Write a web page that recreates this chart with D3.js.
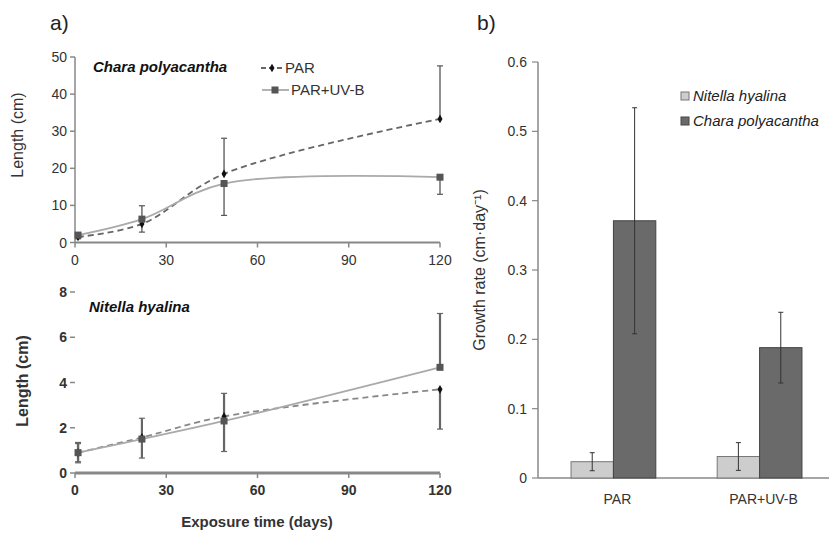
<!DOCTYPE html>
<html>
<head>
<meta charset="utf-8">
<script src="https://cdn.jsdelivr.net/npm/d3@7"></script>
<style>
  html, body { margin: 0; padding: 0; background: #fff; }
  svg { display: block; font-family: Arial, "Liberation Sans", sans-serif; }
</style>
</head>
<body>
<svg id="chart" width="829" height="533"></svg>
<script>
// exposure days (panel a)
const days = [1, 22, 49, 120];
const xTicks = [0, 30, 60, 90, 120];

// Chara polyacantha length (cm)
const charaPar = [1.5, 5.0, 18.5, 33.3];
const charaParErr = [0.5, 2.2, 9.6, 14.3];
const charaUvb = [2.0, 6.3, 15.9, 17.6];
const charaUvbErr = [0.6, 3.6, 8.6, 4.6];

// Nitella hyalina length (cm)
const nitellaPar = [0.9, 1.57, 2.5, 3.7];
const nitellaParErr = [0.45, 0.85, 1.02, 1.76];
const nitellaUvb = [0.9, 1.5, 2.3, 4.67];
const nitellaUvbErr = [0.4, 0.84, 1.35, 2.38];

// growth rate (panel b)
const treatments = ["PAR", "PAR+UV-B"];
const species = ["Nitella hyalina", "Chara polyacantha"];
const rateNitella = [0.0235, 0.031];
const rateNitellaErr = [0.013, 0.02];
const rateChara = [0.371, 0.188];
const rateCharaErr = [0.163, 0.051];

const svg = d3.select("#chart");
const W = 829;

// ---------- panel labels ----------
svg.append("text").attr("x", 50).attr("y", 30).attr("font-size", 21).attr("fill", "#222").text("a)");
svg.append("text").attr("x", 477).attr("y", 30).attr("font-size", 21).attr("fill", "#222").text("b)");

const x = d3.scaleLinear().domain([0, 120]).range([75, 440]);

function linePanel(opt) {
  const y = d3.scaleLinear().domain(opt.yDomain).range(opt.yRange);
  const g = svg.append("g");

  // y axis
  if (opt.yLine) {
    g.append("line").attr("x1", x(0)).attr("x2", x(0))
      .attr("y1", y(opt.yDomain[1])).attr("y2", y(0))
      .attr("stroke", "#888").attr("stroke-width", 1.5);
  }
  opt.yTicks.forEach((t) => {
    g.append("line").attr("x1", x(0) - 5).attr("x2", x(0))
      .attr("y1", y(t)).attr("y2", y(t)).attr("stroke", "#888").attr("stroke-width", 1.5);
    g.append("text").attr("x", x(0) - 8).attr("y", y(t) + 5)
      .attr("text-anchor", "end").attr("font-size", 14)
      .attr("font-weight", opt.bold ? "bold" : null)
      .attr("fill", "#333").text(t);
  });

  // x axis
  g.append("line").attr("x1", x(0)).attr("x2", x(120))
    .attr("y1", y(0)).attr("y2", y(0))
    .attr("stroke", "#888").attr("stroke-width", opt.xAxisW);
  xTicks.forEach((t) => {
    g.append("line").attr("x1", x(t)).attr("x2", x(t))
      .attr("y1", y(0)).attr("y2", y(0) + 5).attr("stroke", "#888").attr("stroke-width", 1.5);
    g.append("text").attr("x", x(t)).attr("y", y(0) + 22)
      .attr("text-anchor", "middle").attr("font-size", 14)
      .attr("font-weight", opt.bold ? "bold" : null)
      .attr("fill", "#333").text(t);
  });

  // y label
  g.append("text")
    .attr("transform", `translate(${opt.yLabelX},${opt.yLabelY}) rotate(-90)`)
    .attr("text-anchor", "middle").attr("font-size", 16)
    .attr("font-weight", opt.bold ? "bold" : null)
    .attr("fill", "#333").text("Length (cm)");

  // species title
  g.append("text").attr("x", opt.titleX).attr("y", opt.titleY)
    .attr("font-size", 15).attr("font-style", "italic").attr("font-weight", "bold")
    .attr("fill", "#111").text(opt.title);

  const line = d3.line().x((d) => x(d[0])).y((d) => y(d[1])).curve(d3.curveCatmullRom.alpha(0.5));

  const series = [
    { v: opt.par, e: opt.parErr, stroke: opt.parColor, dash: "6,4", w: 1.8, mark: "diamond" },
    { v: opt.uvb, e: opt.uvbErr, stroke: opt.uvbColor, dash: null, w: 1.8, mark: "square" },
  ];

  series.forEach((s) => {
    g.append("path").datum(days.map((d, i) => [d, s.v[i]]))
      .attr("fill", "none").attr("stroke", s.stroke).attr("stroke-width", s.w)
      .attr("stroke-dasharray", s.dash).attr("d", line);
  });

  // error bars: the upper series shows its upper half, the lower one its lower half
  series.forEach((s, k) => {
    const other = series[1 - k];
    days.forEach((d, i) => {
      const cx = x(d);
      const ends = [];
      if (s.v[i] >= other.v[i]) ends.push(y(s.v[i] + s.e[i]));
      if (s.v[i] <= other.v[i]) ends.push(y(Math.max(0, s.v[i] - s.e[i])));
      ends.forEach((yy) => {
        g.append("line").attr("x1", cx).attr("x2", cx).attr("y1", y(s.v[i])).attr("y2", yy)
          .attr("stroke", opt.errColor).attr("stroke-width", opt.errW);
        g.append("line").attr("x1", cx - 3).attr("x2", cx + 3).attr("y1", yy).attr("y2", yy)
          .attr("stroke", opt.errColor).attr("stroke-width", 1.2);
      });
    });
  });

  // markers
  series.forEach((s) => {
    days.forEach((d, i) => {
      if (s.mark === "diamond") {
        g.append("path").attr("d", d3.symbol(d3.symbolDiamond, 22)())
          .attr("transform", `translate(${x(d)},${y(s.v[i])})`).attr("fill", "#111");
      } else {
        g.append("rect").attr("x", x(d) - 3.5).attr("y", y(s.v[i]) - 3.5)
          .attr("width", 7).attr("height", 7).attr("fill", "#555");
      }
    });
  });
  return g;
}

// Chara (top)
linePanel({
  yDomain: [0, 50], yRange: [242.5, 57], yTicks: [0, 10, 20, 30, 40, 50],
  yLine: true, xAxisW: 2, bold: false,
  yLabelX: 23, yLabelY: 135,
  title: "Chara polyacantha", titleX: 93, titleY: 72,
  par: charaPar, parErr: charaParErr, uvb: charaUvb, uvbErr: charaUvbErr,
  parColor: "#666", uvbColor: "#aaa", errColor: "#555", errW: 1.3,
});

// legend for panel a
const lg = svg.append("g");
lg.append("line").attr("x1", 261).attr("x2", 284).attr("y1", 68).attr("y2", 68)
  .attr("stroke", "#666").attr("stroke-width", 1.8).attr("stroke-dasharray", "5,3");
lg.append("path").attr("d", d3.symbol(d3.symbolDiamond, 22)()).attr("transform", "translate(272,68)").attr("fill", "#111");
lg.append("text").attr("x", 285).attr("y", 73).attr("font-size", 15).attr("fill", "#333").text("PAR");
lg.append("line").attr("x1", 262).attr("x2", 289).attr("y1", 90).attr("y2", 90)
  .attr("stroke", "#aaa").attr("stroke-width", 1.8);
lg.append("rect").attr("x", 271.5).attr("y", 86.5).attr("width", 7).attr("height", 7).attr("fill", "#555");
lg.append("text").attr("x", 291).attr("y", 95).attr("font-size", 15).attr("fill", "#333").text("PAR+UV-B");

// Nitella (bottom)
linePanel({
  yDomain: [0, 8], yRange: [473, 292], yTicks: [0, 2, 4, 6, 8],
  yLine: false, xAxisW: 3, bold: true,
  yLabelX: 28, yLabelY: 381,
  title: "Nitella hyalina", titleX: 89, titleY: 312,
  par: nitellaPar, parErr: nitellaParErr, uvb: nitellaUvb, uvbErr: nitellaUvbErr,
  parColor: "#888", uvbColor: "#aaa", errColor: "#666", errW: 2.2,
});

svg.append("text").attr("x", 257).attr("y", 527).attr("text-anchor", "middle")
  .attr("font-size", 15).attr("font-weight", "bold").attr("fill", "#333").text("Exposure time (days)");

// ---------- panel b ----------
const yb = d3.scaleLinear().domain([0, 0.6]).range([478, 62]);
const xb = d3.scaleBand().domain(treatments).range([538, 835]).paddingInner(0.42).paddingOuter(0.226);
const xs = d3.scaleBand().domain(species).range([0, xb.bandwidth()]);
const gb = svg.append("g");

gb.append("line").attr("x1", 538).attr("x2", 538).attr("y1", yb(0.6)).attr("y2", yb(0))
  .attr("stroke", "#888").attr("stroke-width", 1.5);
gb.append("line").attr("x1", 538).attr("x2", W).attr("y1", yb(0)).attr("y2", yb(0))
  .attr("stroke", "#888").attr("stroke-width", 1.5);
yb.ticks(6).forEach((t) => {
  gb.append("line").attr("x1", 532).attr("x2", 538).attr("y1", yb(t)).attr("y2", yb(t))
    .attr("stroke", "#888").attr("stroke-width", 1.2);
  gb.append("text").attr("x", 527).attr("y", yb(t) + 5).attr("text-anchor", "end")
    .attr("font-size", 14).attr("fill", "#333").text(t === 0 ? "0" : d3.format(".1f")(t));
});
treatments.forEach((t) => {
  gb.append("text").attr("x", xb(t) + xb.bandwidth() / 2 + 4).attr("y", 504)
    .attr("text-anchor", "middle").attr("font-size", 14).attr("fill", "#333").text(t);
});
gb.append("text").attr("transform", "translate(485,270) rotate(-90)")
  .attr("text-anchor", "middle").attr("font-size", 16).attr("fill", "#333")
  .text("Growth rate (cm·day⁻¹)");

const barSets = [
  { sp: species[0], v: rateNitella, e: rateNitellaErr, fill: "#cdcdcd", stroke: "#777" },
  { sp: species[1], v: rateChara, e: rateCharaErr, fill: "#6a6a6a", stroke: "#444" },
];
barSets.forEach((s) => {
  treatments.forEach((t, i) => {
    const bx = xb(t) + xs(s.sp);
    gb.append("rect").attr("x", bx).attr("y", yb(s.v[i])).attr("width", xs.bandwidth())
      .attr("height", yb(0) - yb(s.v[i])).attr("fill", s.fill).attr("stroke", s.stroke).attr("stroke-width", 1);
  });
});
barSets.forEach((s) => {
  treatments.forEach((t, i) => {
    const cx = xb(t) + xs(s.sp) + xs.bandwidth() / 2;
    const y1 = yb(s.v[i] + s.e[i]), y2 = yb(s.v[i] - s.e[i]);
    gb.append("line").attr("x1", cx).attr("x2", cx).attr("y1", y1).attr("y2", y2)
      .attr("stroke", "#333").attr("stroke-width", 1);
    [y1, y2].forEach((yy) => gb.append("line").attr("x1", cx - 2.5).attr("x2", cx + 2.5)
      .attr("y1", yy).attr("y2", yy).attr("stroke", "#333").attr("stroke-width", 1));
  });
});

// legend panel b
barSets.forEach((s, i) => {
  const ly = 97 + i * 25;
  gb.append("rect").attr("x", 681).attr("y", ly - 5).attr("width", 8).attr("height", 8)
    .attr("fill", s.fill).attr("stroke", s.stroke);
  gb.append("text").attr("x", 693).attr("y", ly + 4).attr("font-size", 15)
    .attr("font-style", "italic").attr("fill", "#222").text(s.sp);
});
</script>
</body>
</html>
